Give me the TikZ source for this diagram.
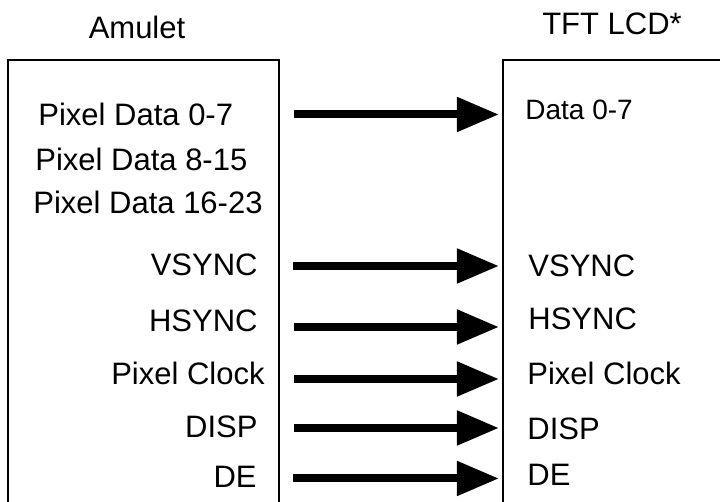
\documentclass[tikz,border=0pt]{standalone}
\usepackage{fontspec}
\setmainfont{Liberation Sans}
\usetikzlibrary{arrows.meta}

\tikzset{
  sig/.style={font=\fontsize{15.5}{18}\selectfont,inner sep=0pt},
  small/.style={font=\fontsize{14}{17}\selectfont,inner sep=0pt},
  wire/.style={line width=4pt,-{Triangle[length=21pt,width=16.5pt]}},
  frame/.style={line width=1.2pt}
}

\begin{document}
\begin{tikzpicture}[x=0.5pt,y=0.5pt]
\useasboundingbox (0,0) rectangle (720,502);
\clip (0,0) rectangle (720,502);
% boxes, open at the edges of the page
\draw[frame] (8,-20) -- (8,442) -- (279,442) -- (279,-20);
\draw[frame] (503,-20) -- (503,442) -- (740,442);
% titles
\node[sig,anchor=base] (amulet) at (137,463) {Amulet};
\node[sig,anchor=base] (lcd) at (612,467) {TFT LCD*};
% Amulet side
\node[sig,anchor=base west] (apd0) at (38,376) {Pixel Data 0-7};
\node[sig,anchor=base west] (apd8) at (35,331) {Pixel Data 8-15};
\node[sig,anchor=base west] (apd16) at (33,288) {Pixel Data 16-23};
\node[sig,anchor=base east] (avs) at (258,226) {VSYNC};
\node[sig,anchor=base east] (ahs) at (258,170) {HSYNC};
\node[sig,anchor=base east] (aclk) at (265,117) {Pixel Clock};
\node[sig,anchor=base east] (adisp) at (258,64) {DISP};
\node[sig,anchor=base east] (ade) at (257,14) {DE};
% LCD side
\node[small,anchor=base west] (ld0) at (525,382) {Data 0-7};
\node[sig,anchor=base west] (lvs) at (528,225) {VSYNC};
\node[sig,anchor=base west] (lhs) at (528,172) {HSYNC};
\node[sig,anchor=base west] (lclk) at (527,117) {Pixel Clock};
\node[sig,anchor=base west] (ldisp) at (527,62) {DISP};
\node[sig,anchor=base west] (lde) at (527,16) {DE};
% signal lines
\coordinate (d0s) at (294,387.5);
\coordinate (d0e) at (499,387.5);
\coordinate (vss) at (293,236);
\coordinate (vse) at (499,236);
\coordinate (hss) at (294,175);
\coordinate (hse) at (499,175);
\coordinate (clks) at (294,123);
\coordinate (clke) at (499,123);
\coordinate (disps) at (294,74);
\coordinate (dispe) at (499,74);
\coordinate (des) at (293,23.5);
\coordinate (dee) at (499,23.5);
\draw[wire] (d0s) -- (d0e);
\draw[wire] (vss) -- (vse);
\draw[wire] (hss) -- (hse);
\draw[wire] (clks) -- (clke);
\draw[wire] (disps) -- (dispe);
\draw[wire] (des) -- (dee);
\end{tikzpicture}
\end{document}
